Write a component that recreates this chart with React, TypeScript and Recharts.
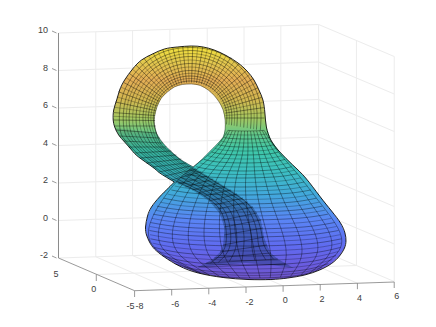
import { ScatterChart, Scatter, XAxis, YAxis } from 'recharts'

type Line = number[][]

const zTicks = [-2, 0, 2, 4, 6, 8, 10]
const xTickLabels = ['-8', '-6', '-4', '-2', '0', '2', '4', '6']
const yTickLabels = ['5', '0', '-5']
const xLabelSpots = [[138, 305.5], [174, 304], [211, 303], [248.5, 301.5], [284.5, 300], [321.5, 299], [359, 298], [396.5, 296]]
const yLabelSpots = [[54, 274], [92, 289], [129, 305.5]]

const zAxisLine = [[56.5, 10], [56.5, -2]]
const floorAxes: Line[] = [
  [[56.5, 258], [133, 290.7]],
  [[133, 290.7], [394, 282]],
]
const xTickMarks: Line[] = [
  [[133, 290.7], [133, 297]], [[170.3, 289.5], [170.3, 295.5]], [[207.6, 288.3], [207.6, 294.3]],
  [[245, 287], [245, 293]], [[282.3, 285.8], [282.3, 291.8]], [[319.6, 284.5], [319.6, 290.5]],
  [[357, 283.2], [357, 289.2]], [[394, 282], [394, 288]],
]
const yTickMarks: Line[] = [[[94.5, 274.5], [94.5, 281]]]

const wallLevels: Line[] = [
  [[56.5, 33], [318, 24.5], [394, 56.5]],
  [[56.5, 70.5], [318, 62], [394, 94]],
  [[56.5, 108], [318, 99.5], [394, 131.5]],
  [[56.5, 145.5], [318, 137], [394, 169]],
  [[56.5, 183], [318, 174.5], [394, 206.5]],
  [[56.5, 220.5], [318, 212], [394, 244]],
  [[56.5, 258], [318, 249.5], [394, 281.5]],
]
const wallUprights: Line[] = [
  [[94, 31.8], [94, 256.8]], [[131, 30.6], [131, 255.6]], [[168.5, 29.4], [168.5, 254.4]],
  [[206, 28.1], [206, 253.1]], [[243, 26.9], [243, 251.9]], [[280, 25.7], [280, 250.7]],
  [[318, 24.5], [318, 249.5]], [[356, 40.5], [356, 265.5]], [[394, 56.5], [394, 281.5]],
]
const floorLines: Line[] = [
  [[94, 256.8], [170.3, 289.5]], [[131, 255.6], [207.6, 288.3]], [[168.5, 254.4], [245, 287]],
  [[206, 253.1], [282.3, 285.8]], [[243, 251.9], [319.6, 284.5]], [[280, 250.7], [357, 283.2]],
  [[94.5, 274.5], [356, 265.5]],
]

const outerEdge: Line = [
  [173, 182], [163, 176], [157, 172], [151, 167], [137, 157], [130, 150], [123, 142], [117, 135], [113, 127],
  [111.5, 120], [112, 110], [115, 100], [118, 90], [123, 80], [131, 69], [140, 60], [151, 54], [163, 49],
  [176, 47], [190, 46], [202, 47], [213, 50], [225, 55.5], [237, 63], [246, 71], [253, 80], [258, 90],
  [262, 100], [264, 113], [265.5, 127], [270, 140], [279, 152], [292, 165], [305, 178], [319, 196], [331, 211],
  [340, 223], [344.5, 233], [345.5, 241], [344, 248], [339, 256], [331, 263.5], [319, 270], [304, 275], [287, 278], [270, 279.5],
  [247, 279.5], [222, 277.5], [197, 273], [178, 266], [163, 257], [153, 249], [148, 242], [145, 235], [144, 227],
  [146, 216], [150, 207], [158, 197], [167, 188], [173, 182],
]
const holeEdge: Line = [
  [192, 167], [180, 160], [172, 153.5], [165, 147], [159, 140], [155, 133], [153, 125], [153, 117], [155.5, 107],
  [160, 98], [166, 92], [173, 87], [181, 84.5], [190, 84], [199, 85.5], [207, 90], [213, 95.5], [218, 102],
  [222, 110], [224, 120], [224, 129], [222, 137], [216, 144], [210, 150], [201, 159], [192, 167],
]
const tubeOutside: Line = [
  [113, 128], [123, 142], [137, 157], [151, 167], [173, 182], [192, 167], [180, 160], [165, 147], [155, 133],
]
const tubeInside: Line = [
  [192, 167], [200, 172], [218, 183], [236, 194], [252, 207], [260, 220], [263, 237], [266, 245], [270, 253],
  [277, 259], [293, 268], [270, 265], [245, 263], [220, 265], [197, 267], [205, 263], [213, 258], [219, 252],
  [222, 245], [223, 235], [223, 227], [219, 214], [208, 201], [191, 190], [173, 182],
]

// Long lines round the loop and on down the tube
const rimLines: Line[] = [
  [[225.4, 124.4], [225.4, 111.6], [221, 99.5], [212.8, 89.7], [201.7, 83.2], [189, 81], [176.3, 83.2], [165.2, 89.7], [157, 99.5], [152.6, 111.6], [152.6, 124.4], [158.7, 142.9], [167.8, 151.1], [183, 163.2], [198.2, 172.5], [216.4, 183.4], [234.3, 194.4], [250, 207.4], [259.7, 228.4], [263.2, 245.4], [272.7, 259.2]],
  [[230.4, 125.3], [230.4, 110.7], [225.4, 97], [216, 85.8], [203.4, 78.5], [189, 76], [174.6, 78.5], [162, 85.8], [152.6, 97], [147.6, 110.7], [147.6, 125.3], [154.4, 142.7], [163.7, 151.3], [179.2, 163.7], [194.9, 173.4], [213.4, 184.2], [231.2, 195.2], [246.4, 208.2], [255.4, 229.2], [258, 246.2], [264.8, 259.7]],
  [[235.8, 126.3], [235.8, 109.7], [230.1, 94.3], [219.5, 81.6], [205.2, 73.4], [189, 70.5], [172.8, 73.4], [158.5, 81.6], [147.9, 94.3], [142.2, 109.7], [142.2, 126.3], [148.5, 142.4], [158.2, 151.6], [174.1, 164.3], [190.4, 174.6], [209.4, 185.2], [227, 196.2], [241.4, 209.2], [249.5, 230.2], [251, 247.2], [254, 260.3]],
  [[242.7, 127.5], [242.7, 108.5], [236.2, 90.8], [224, 76.3], [207.6, 66.8], [189, 63.5], [170.4, 66.8], [154, 76.3], [141.8, 90.8], [135.3, 108.5], [135.3, 127.5], [141.5, 142], [151.5, 152], [168, 165], [185, 176], [204.5, 186.5], [222, 197.5], [235.5, 210.5], [242.5, 231.5], [242.5, 248.5], [241, 261]],
  [[249.6, 128.7], [249.6, 107.3], [242.3, 87.3], [228.5, 70.9], [210, 60.2], [189, 56.5], [168, 60.2], [149.5, 70.9], [135.7, 87.3], [128.4, 107.3], [128.4, 128.7], [134.5, 141.6], [144.8, 152.4], [161.9, 165.7], [179.6, 177.4], [199.6, 187.8], [217, 198.8], [229.6, 211.8], [235.5, 232.8], [234, 249.8], [228, 261.7]],
  [[255.5, 129.7], [255.5, 106.3], [247.5, 84.3], [232.4, 66.3], [212, 54.6], [189, 50.5], [166, 54.6], [145.6, 66.3], [130.5, 84.3], [122.5, 106.3], [122.5, 129.7], [128.6, 141.3], [139.3, 152.7], [156.8, 166.3], [175.1, 178.6], [195.6, 188.8], [212.8, 199.8], [224.6, 212.8], [229.6, 233.8], [227, 251], [217.2, 262.3]],
  [[259.4, 130.4], [259.4, 105.6], [251, 82.3], [235, 63.2], [213.5, 51], [189, 47.5], [164.5, 51], [143, 63.2], [127, 82.3], [118.6, 105.6], [118.6, 130.4], [124.3, 141.1], [135.2, 152.9], [153, 166.8], [171.8, 179.5], [192.6, 189.6], [209.7, 200.6], [221, 213.6], [225.3, 234.6], [221.8, 251.6], [209.3, 262.8]],
]

// Finer lines between the rims, on the part of the tube outside the bulb
const fineRimLines: Line[] = [
  [[227.9, 124.9], [227.9, 111.2], [223.2, 98.3], [214.4, 87.8], [202.6, 80.9], [189, 78.5], [175.4, 80.9], [163.6, 87.8], [154.8, 98.3], [150.1, 111.2], [150.1, 124.9], [156.6, 142.8], [165.8, 151.2], [181.1, 163.5], [196.6, 173]],
  [[233.1, 125.8], [233.1, 110.2], [227.8, 95.7], [217.8, 83.7], [204.3, 76], [189, 73.3], [173.7, 76], [160.3, 83.7], [150.3, 95.7], [144.9, 110.2], [144.9, 125.8], [151.5, 142.6], [161, 151.5], [176.7, 164], [192.7, 174]],
  [[239.3, 126.9], [239.3, 109.1], [233.2, 92.6], [221.8, 79], [206.4, 70.1], [189, 67], [171.6, 70.1], [156.2, 79], [144.8, 92.6], [138.7, 109.1], [138.7, 126.9], [145, 142.2], [154.9, 151.8], [171, 164.6], [187.7, 175.3]],
  [[246.2, 128.1], [246.2, 107.9], [239.3, 89], [226.3, 73.6], [208.8, 63.5], [189, 60], [169.2, 63.5], [151.8, 73.6], [138.8, 89], [131.9, 107.9], [131.9, 128.1], [138, 141.8], [148.2, 152.2], [165, 165.4], [182.3, 176.7]],
  [[252.6, 129.2], [252.6, 106.8], [244.9, 85.8], [230.5, 68.6], [211, 57.4], [189, 53.5], [167, 57.4], [147.6, 68.6], [133.1, 85.8], [125.5, 106.8], [125.5, 129.2], [131.6, 141.5], [142, 152.6], [159.4, 166], [177.4, 178]],
]

const loopRings: Line[] = [
  [[224.5, 118], [263.5, 118]], [[224.1, 113.1], [262.8, 107.6]], [[223.1, 108.2], [260.6, 97.4]],
  [[221.4, 103.6], [257.1, 87.7]], [[219.1, 99.2], [252.2, 78.5]], [[216.2, 95.2], [244.9, 71.1]],
  [[212.7, 91.6], [237.8, 63.8]], [[208.8, 88.6], [229.8, 57.5]], [[204.5, 86.1], [220.5, 53.3]],
  [[200, 84.2], [211.2, 49.5]], [[195.2, 83], [201.5, 47.1]], [[190.2, 82.5], [191.5, 46.1]],
  [[185.3, 82.7], [181.4, 46.4]], [[180.4, 83.6], [171.5, 48.2]], [[175.7, 85.1], [161.4, 49.9]],
  [[171.3, 87.3], [151.5, 53.1]], [[167.1, 90], [142.2, 58.1]], [[163.5, 93.3], [134.4, 65.2]],
  [[160.3, 97.1], [127.5, 73.3]], [[157.7, 101.4], [121.9, 82.4]], [[155.6, 105.9], [116.6, 91.7]],
  [[154.3, 110.6], [113.7, 102]], [[153.6, 115.5], [112.2, 112.6]], [[153.6, 120.5], [112.2, 120]],
]
const fineLoopRings: Line[] = [
  [[224.3, 115.5], [263.2, 112.8]], [[223.6, 110.7], [261.7, 102.5]], [[222.3, 105.9], [258.9, 92.6]],
  [[220.3, 101.4], [254.7, 83.1]], [[217.7, 97.2], [248.6, 74.8]], [[214.5, 93.4], [241.4, 67.5]],
  [[210.8, 90.1], [233.8, 60.7]], [[206.7, 87.4], [225.2, 55.4]], [[202.3, 85.2], [215.9, 51.4]],
  [[197.6, 83.6], [206.4, 48.3]], [[192.7, 82.8], [196.5, 46.6]], [[187.8, 82.6], [186.5, 46.3]],
  [[182.9, 83.2], [176.5, 47.3]], [[178, 84.4], [166.5, 49]], [[173.5, 86.2], [156.5, 51.5]],
  [[169.2, 88.7], [146.9, 55.6]], [[165.3, 91.7], [138.3, 61.7]], [[161.9, 95.2], [131, 69.3]],
  [[159, 99.3], [124.7, 77.9]], [[156.7, 103.7], [119.3, 87.1]], [[155, 108.3], [115.2, 96.9]],
  [[154, 113.1], [113, 107.3]], [[153.6, 118], [112.2, 116.3]],
]

const tubeRings: Line[] = [
  [[154.5, 126], [113, 126]], [[155.5, 133], [114, 130]], [[158, 138], [117.5, 136]], [[161, 143], [122, 141]],
  [[165, 147], [127, 147]], [[170, 151], [133, 153]], [[175, 155], [139, 158]], [[180, 159], [145, 163]],
  [[185, 163], [151, 167]], [[190, 166], [157, 172]], [[195, 169], [163, 176]], [[200, 172], [170, 180]],
  [[206, 176], [177, 184]], [[212, 179], [184, 187]], [[218, 183], [191, 190]], [[224, 187], [197, 193]],
  [[230, 190], [203, 196]], [[236, 194], [208, 201]], [[242, 198], [213, 205]], [[247, 202], [217, 209]],
  [[252, 207], [219, 214]], [[256, 213], [222, 220]], [[260, 220], [223, 227]], [[262, 228], [223, 235]],
  [[263, 237], [222, 245]], [[266, 245], [219, 252]], [[270, 253], [213, 258]], [[277, 259], [205, 263]],
  [[285, 264], [197, 267]],
]

const bulbRings: Line[] = [
  [[226.8, 130.3], [231.3, 130.7], [237.4, 130.9], [245, 131], [252.6, 130.9], [258.7, 130.7], [263.2, 130.3]],
  [[223, 137.6], [228.7, 138.4], [236.4, 138.8], [246, 139], [255.6, 138.8], [263.3, 138.4], [269, 137.6]],
  [[217.2, 144.8], [224.1, 146.1], [233.4, 146.8], [245, 147], [256.6, 146.8], [265.9, 146.1], [272.8, 144.8]],
  [[210.4, 152.1], [218.8, 153.8], [230, 154.7], [244, 155], [258, 154.7], [269.2, 153.8], [277.6, 152.1]],
  [[202.7, 159.4], [212.9, 161.5], [226.5, 162.6], [243.5, 163], [260.5, 162.6], [274.1, 161.5], [284.3, 159.4]],
  [[195, 166.7], [207, 169.1], [223, 170.5], [243, 171], [263, 170.5], [279, 169.1], [291, 166.7]],
  [[183.4, 173.7], [197.5, 176.1], [216.4, 177.5], [240, 178], [263.6, 177.5], [282.5, 176.1], [296.6, 173.7]],
  [[176.6, 182], [192.5, 184.8], [213.6, 186.4], [240, 187], [266.4, 186.4], [287.5, 184.8], [303.4, 182]],
  [[170, 190], [187.4, 192.8], [210.8, 194.4], [240, 195], [269.2, 194.4], [292.6, 192.8], [310, 190]],
  [[162.2, 198.2], [181.4, 201.5], [207, 203.4], [239, 204], [271, 203.4], [296.6, 201.5], [315.8, 198.2]],
  [[155.5, 206.2], [176.2, 209.5], [203.9, 211.4], [238.5, 212], [273.1, 211.4], [300.8, 209.5], [321.5, 206.2]],
  [[151.7, 214.2], [173.6, 217.5], [202.9, 219.4], [239.5, 220], [276.1, 219.4], [305.4, 217.5], [327.3, 214.2]],
  [[148.9, 222.5], [172, 226.2], [202.9, 228.3], [241.5, 229], [280.1, 228.3], [311, 226.2], [334.1, 222.5]],
  [[148, 230.5], [171.7, 234.2], [203.4, 236.3], [243, 237], [282.6, 236.3], [314.3, 234.2], [338, 230.5]],
  [[149, 238.8], [173, 242.9], [205, 245.2], [245, 246], [285, 245.2], [317, 242.9], [341, 238.8]],
  [[152.9, 247.4], [176.3, 252.3], [207.5, 255], [246.5, 256], [285.5, 255], [316.7, 252.3], [340.1, 247.4]],
  [[160.6, 255.6], [182.5, 261], [211.6, 264], [248, 265], [284.4, 264], [313.5, 261], [335.4, 255.6]],
  [[173.2, 263.6], [192.5, 269], [218.3, 272], [250.5, 273], [282.7, 272], [308.5, 269], [327.8, 263.6]],
  [[192.6, 270.8], [207.9, 274.9], [228.4, 277.2], [254, 278], [279.6, 277.2], [300.1, 274.9], [315.4, 270.8]],
]
const fineBulbRings: Line[] = [
  [[224.9, 134], [230, 134.6], [236.9, 134.9], [245.5, 135], [254.1, 134.9], [261, 134.6], [266.1, 134]],
  [[220.1, 141.2], [226.4, 142.3], [234.9, 142.8], [245.5, 143], [256.1, 142.8], [264.6, 142.3], [270.9, 141.2]],
  [[213.8, 148.5], [221.5, 150], [231.7, 150.8], [244.5, 151], [257.3, 150.8], [267.6, 150], [275.2, 148.5]],
  [[206.6, 155.8], [215.9, 157.7], [228.3, 158.7], [243.8, 159], [259.3, 158.7], [271.7, 157.7], [281, 155.8]],
  [[198.9, 163], [210, 165.3], [224.8, 166.6], [243.3, 167], [261.8, 166.6], [276.6, 165.3], [287.7, 163]],
  [[189.2, 170.2], [202.3, 172.6], [219.7, 174], [241.5, 174.5], [263.3, 174], [280.8, 172.6], [293.8, 170.2]],
  [[180, 177.9], [195, 180.5], [215, 182], [240, 182.5], [265, 182], [285, 180.5], [300, 177.9]],
  [[173.3, 186], [190, 188.8], [212.2, 190.4], [240, 191], [267.8, 190.4], [290, 188.8], [306.7, 186]],
  [[166.1, 194.1], [184.4, 197.2], [208.9, 198.9], [239.5, 199.5], [270.1, 198.9], [294.6, 197.2], [312.9, 194.1]],
  [[158.9, 202.2], [178.8, 205.5], [205.5, 207.4], [238.8, 208], [272.1, 207.4], [298.7, 205.5], [318.7, 202.2]],
  [[153.6, 210.2], [174.9, 213.5], [203.4, 215.4], [239, 216], [274.6, 215.4], [303.1, 213.5], [324.4, 210.2]],
  [[150.3, 218.4], [172.8, 221.9], [202.9, 223.9], [240.5, 224.5], [278.1, 223.9], [308.2, 221.9], [330.7, 218.4]],
  [[148.5, 226.5], [171.9, 230.2], [203.2, 232.3], [242.3, 233], [281.4, 232.3], [312.7, 230.2], [336, 226.5]],
  [[148.5, 234.7], [172.4, 238.6], [204.2, 240.8], [244, 241.5], [283.8, 240.8], [315.7, 238.6], [339.5, 234.7]],
  [[151, 243.1], [174.7, 247.6], [206.3, 250.1], [245.8, 251], [285.3, 250.1], [316.9, 247.6], [340.6, 243.1]],
  [[156.8, 251.5], [179.4, 256.7], [209.6, 259.5], [247.3, 260.5], [285, 259.5], [315.1, 256.7], [337.8, 251.5]],
  [[166.9, 259.6], [187.5, 265], [215, 268], [249.3, 269], [283.6, 268], [311, 265], [331.6, 259.6]],
  [[182.9, 267.2], [200.2, 272], [223.4, 274.6], [252.3, 275.5], [281.2, 274.6], [304.3, 272], [321.6, 267.2]],
]

const bulbMeridians: Line[] = [
  [[226.8, 130.3], [210.4, 152.1], [183.4, 173.7], [162.2, 198.2], [148.9, 222.5], [152.9, 247.4], [192.6, 270.8]],
  [[228.7, 130.5], [213.9, 153], [189.3, 175], [170.2, 200], [158.5, 224.6], [162.6, 250.1], [199, 273.1]],
  [[231.3, 130.7], [218.8, 153.8], [197.5, 176.1], [181.4, 201.5], [172, 226.2], [176.3, 252.3], [207.9, 274.9]],
  [[234.4, 130.8], [224.4, 154.3], [207, 177], [194.2, 202.6], [187.5, 227.5], [191.9, 254], [218.2, 276.3]],
  [[237.4, 130.9], [230, 154.7], [216.4, 177.5], [207, 203.4], [202.9, 228.3], [207.5, 255], [228.4, 277.2]],
  [[240.4, 131], [235.6, 154.9], [225.8, 177.8], [219.8, 203.8], [218.3, 228.7], [223.1, 255.6], [238.6, 277.7]],
  [[243.5, 131], [241.2, 155], [235.3, 178], [232.6, 204], [233.8, 229], [238.7, 256], [248.9, 278]],
  [[246.5, 131], [246.8, 155], [244.7, 178], [245.4, 204], [249.2, 229], [254.3, 256], [259.1, 278]],
  [[249.6, 131], [252.4, 154.9], [254.2, 177.8], [258.2, 203.8], [264.7, 228.7], [269.9, 255.6], [269.4, 277.7]],
  [[252.6, 130.9], [258, 154.7], [263.6, 177.5], [271, 203.4], [280.1, 228.3], [285.5, 255], [279.6, 277.2]],
  [[255.6, 130.8], [263.6, 154.3], [273, 177], [283.8, 202.6], [295.5, 227.5], [301.1, 254], [289.8, 276.3]],
  [[258.7, 130.7], [269.2, 153.8], [282.5, 176.1], [296.6, 201.5], [311, 226.2], [316.7, 252.3], [300.1, 274.9]],
  [[261.3, 130.5], [274.1, 153], [290.7, 175], [307.8, 200], [324.5, 224.6], [330.4, 250.1], [309, 273.1]],
  [[263.2, 130.3], [277.6, 152.1], [296.6, 173.7], [315.8, 198.2], [334.1, 222.5], [340.1, 247.4], [315.4, 270.8]],
]

// Parula-like ramp seen through the surface's transparency, keyed by height in the picture
const rampStops = [
  { y: 47, color: '#f3e23c' }, { y: 62, color: '#e2c84e' }, { y: 80, color: '#e3ad55' },
  { y: 100, color: '#d2b850' }, { y: 118, color: '#a6c860' }, { y: 135, color: '#5fc88c' },
  { y: 150, color: '#3fc7a8' }, { y: 170, color: '#3cc0c0' }, { y: 195, color: '#42a8dc' },
  { y: 220, color: '#5a85f5' }, { y: 245, color: '#5f6cf0' }, { y: 265, color: '#6a5ce0' },
  { y: 280, color: '#6f55c8' },
]

const zAxisX = 56.5

const toPoints = (line: number[][]) => line.map(([x, y]) => ({ x, y }))
const NoDot = () => null

const labelText = (text: string) => (props: any) => (
  <text
    x={props.cx}
    y={props.cy}
    textAnchor="middle"
    dominantBaseline="central"
    fontFamily="Liberation Sans"
    fontSize={9}
    fill="#404040"
  >
    {text}
  </text>
)

const ZTick = (props: any) => {
  const { y, payload } = props
  return (
    <g>
      <line x1={zAxisX - 4.5} y1={y - 2} x2={zAxisX} y2={y} stroke="#808080" strokeWidth={0.8} />
      <text
        x={zAxisX - 8.5}
        y={y - 3}
        textAnchor="end"
        dominantBaseline="central"
        fontFamily="Liberation Sans"
        fontSize={9}
        fill="#404040"
      >
        {payload.value}
      </text>
    </g>
  )
}

const drawLines = (
  prefix: string,
  lines: Line[],
  stroke: string,
  strokeWidth: number,
  strokeOpacity: number,
  curve: 'linear' | 'natural' = 'linear',
) =>
  lines.map((line, i) => (
    <Scatter
      key={`${prefix}-${i}`}
      yAxisId="screen"
      data={toPoints(line)}
      isAnimationActive={false}
      shape={NoDot}
      line={{ stroke, strokeWidth, strokeOpacity, fill: 'none' }}
      lineJointType={curve}
    />
  ))

const drawFill = (key: string, line: Line, fill: string, fillOpacity: number) => (
  <Scatter
    key={key}
    yAxisId="screen"
    data={toPoints(line)}
    isAnimationActive={false}
    shape={NoDot}
    line={{ stroke: 'none', fill, fillOpacity, fillRule: 'evenodd' }}
    lineJointType="linear"
  />
)

const drawLabels = (prefix: string, labels: string[], spots: number[][]) =>
  labels.map((label, i) => (
    <Scatter
      key={`${prefix}-${i}`}
      yAxisId="screen"
      data={toPoints([spots[i]])}
      isAnimationActive={false}
      shape={labelText(label)}
    />
  ))

export default function App() {
  return (
    <div style={{ position: 'absolute', left: 0, top: 0, width: 436, height: 327, background: '#fff' }}>
      <ScatterChart width={436} height={327} margin={{ top: 0, right: 0, bottom: 0, left: 0 }}>
        <defs>
          <linearGradient id="surfaceRamp" gradientUnits="userSpaceOnUse" x1="0" y1="47" x2="0" y2="280">
            {rampStops.map((s) => (
              <stop key={s.y} offset={(s.y - 47) / 233} stopColor={s.color} />
            ))}
          </linearGradient>
        </defs>
        <XAxis type="number" dataKey="x" domain={[56, 436]} hide />
        <YAxis yAxisId="screen" type="number" dataKey="y" domain={[0, 327]} reversed hide />
        <YAxis
          yAxisId="z"
          type="number"
          dataKey="y"
          domain={[-5.68, 11.76]}
          ticks={zTicks}
          width={56}
          axisLine={false}
          tickLine={false}
          tickSize={0}
          tickMargin={0}
          tick={ZTick}
        />

        {drawLines('level', wallLevels, '#ececec', 1, 1)}
        {drawLines('upright', wallUprights, '#ececec', 1, 1)}
        {drawLines('floor', floorLines, '#ececec', 1, 1)}
        <Scatter
          yAxisId="z"
          data={toPoints(zAxisLine)}
          isAnimationActive={false}
          shape={NoDot}
          line={{ stroke: '#8a8a8a', strokeWidth: 1, fill: 'none' }}
        />
        {drawLines('floorAxis', floorAxes, '#808080', 0.8, 1)}
        {drawLines('xTick', xTickMarks, '#808080', 0.8, 1)}
        {drawLines('yTick', yTickMarks, '#808080', 0.8, 1)}
        {drawLabels('xLabel', xTickLabels, xLabelSpots)}
        {drawLabels('yLabel', yTickLabels, yLabelSpots)}

        {drawFill('surface', [...outerEdge, ...holeEdge, outerEdge[0]], 'url(#surfaceRamp)', 1)}
        {drawFill('tubeOutside', tubeOutside, '#06304a', 0.14)}
        {drawFill('tubeInside', tubeInside, '#0a2a50', 0.33)}

        {drawLines('tubeRing', tubeRings, '#000', 0.6, 0.6)}
        {drawLines('rim', rimLines, '#000', 0.6, 0.65, 'natural')}
        {drawLines('fineRim', fineRimLines, '#000', 0.5, 0.55, 'natural')}
        {drawLines('loopRing', loopRings, '#000', 0.6, 0.65)}
        {drawLines('fineLoopRing', fineLoopRings, '#000', 0.5, 0.5)}
        {drawLines('bulbRing', bulbRings, '#000', 0.6, 0.6, 'natural')}
        {drawLines('fineBulbRing', fineBulbRings, '#000', 0.5, 0.5, 'natural')}
        {drawLines('meridian', bulbMeridians, '#000', 0.6, 0.6, 'natural')}
        {drawLines('outer', [outerEdge], '#000', 1, 0.85, 'natural')}
        {drawLines('hole', [holeEdge], '#000', 0.7, 0.55, 'natural')}
      </ScatterChart>
    </div>
  )
}
